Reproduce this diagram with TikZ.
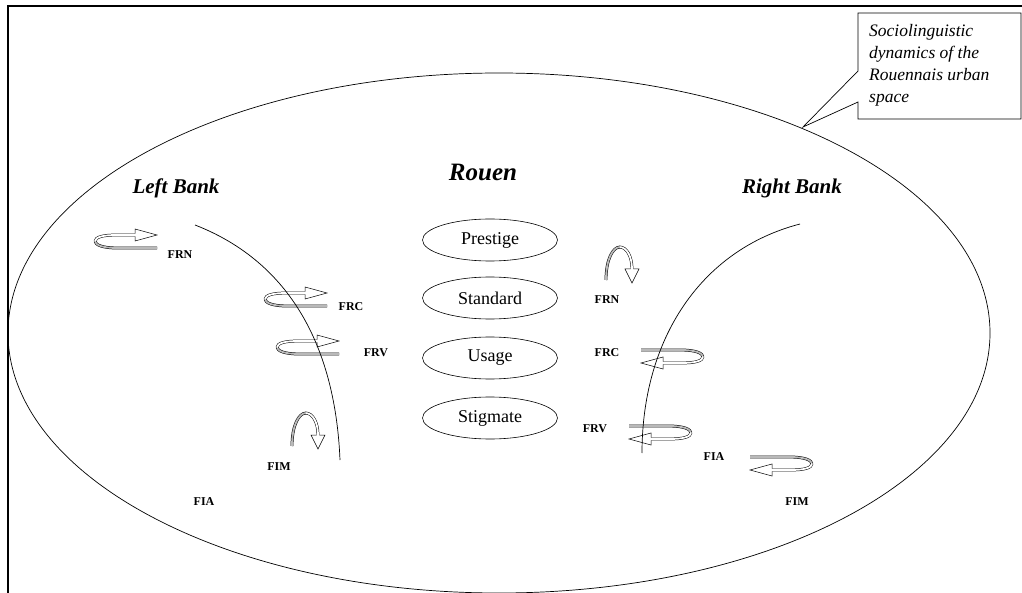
\documentclass[tikz,border=0pt]{standalone}
\usepackage{fontspec}
\setmainfont{Liberation Serif}
\usetikzlibrary{shapes.geometric}
\begin{document}
\begin{tikzpicture}[x=1pt,y=-1pt,
  code/.style={font=\fontsize{12}{14}\selectfont\bfseries, inner sep=0pt},
  bank/.style={font=\fontsize{21}{25}\selectfont\bfseries\itshape, inner sep=0pt},
  title/.style={font=\fontsize{25}{30}\selectfont\bfseries\itshape, inner sep=0pt},
  level/.style={ellipse, draw, line width=0.6pt, minimum width=135pt, minimum height=42pt, inner sep=0pt, font=\fontsize{18}{21}\selectfont},
  front/.style={draw=black, line width=0.5pt, double=white, double distance=1.8pt},
  back/.style={draw=black, line width=0.5pt, double=gray!55, double distance=1.8pt},
  headst/.style={draw=black, line width=0.5pt, fill=white, line join=miter},
  river/.style={draw=black, line width=0.7pt},
  harrow/.pic={
    \draw[back] (0,0) .. controls (0,4) and (8,7) .. (22,7) -- (62,7);
    \draw[front] (0,0.5) .. controls (0,-4) and (8,-6) .. (22,-6) -- (40,-6);
    \fill[white] (40,-12) -- (62,-6) -- (40,0) -- cycle;
    \draw[headst, fill=none] (40,-4.6) -- (40,0) -- (62,-6) -- (40,-12) -- (40,-7.4);
  },
  varrow/.pic={
    \draw[back] (-14,33) .. controls (-14,12) and (-7,0) .. (0,0);
    \draw[front] (-0.5,0) .. controls (7,0) and (12,10) .. (12,22);
    \fill[white] (5,22) -- (19,22) -- (12,36) -- cycle;
    \draw[headst, fill=none] (10.6,22) -- (5,22) -- (12,36) -- (19,22) -- (13.4,22);
  }
]
\useasboundingbox (0,0) rectangle (1022,593);
\fill[white] (0,0) rectangle (1022,593);

% frame
\draw[line width=2.5pt] (8,593) -- (8,6) -- (1022,6);

% big ellipse
\draw[line width=0.7pt] (499,333) ellipse [x radius=491pt, y radius=260pt];

% callout
\draw[line width=0.7pt, fill=white] (858,13) -- (1021,13) -- (1021,119) -- (858,119) -- (858,102) -- (803,127) -- (858,71) -- cycle;
\node[anchor=north west, align=left, inner sep=0pt, font=\fontsize{17.5}{22}\selectfont\itshape] (note) at (869,24) {Sociolinguistic\\dynamics of the\\Rouennais urban\\space};

% titles
\node[title] (rouen) at (483,172) {Rouen};
\node[bank] (left) at (176,188) {Left Bank};
\node[bank] (right) at (792,188) {Right Bank};

% levels
\node[level] (prestige) at (490,240) {Prestige};
\node[level] (standard) at (490,298) {Standard};
\node[level] (usage) at (490,358) {Usage};
\node[level] (stigmate) at (490,418) {Stigmate};

% left bank arrows
\pic at (95,241) {harrow};
\pic at (265,299) {harrow};
\pic at (277,347) {harrow};
\pic at (306,413) {varrow};

% right bank arrows
\pic at (620,247) {varrow};
\pic[rotate=180] at (703,357) {harrow};
\pic[rotate=180] at (691,433) {harrow};
\pic[rotate=180] at (812,464) {harrow};

% rivers
\draw[river] (195,225) .. controls (285,260) and (335,340) .. (340,460);
\draw[river] (800,224) .. controls (700,250) and (642,340) .. (642,453);

% codes left
\node[code] (lfrn) at (180,255) {FRN};
\node[code] (lfrc) at (351,307) {FRC};
\node[code] (lfrv) at (376,353) {FRV};
\node[code] (lfim) at (279,467) {FIM};
\node[code] (lfia) at (204,502) {FIA};

% codes right
\node[code] (rfrn) at (607,300) {FRN};
\node[code] (rfrc) at (607,353) {FRC};
\node[code] (rfrv) at (595,429) {FRV};
\node[code] (rfia) at (714,457) {FIA};
\node[code] (rfim) at (797,502) {FIM};
\end{tikzpicture}
\end{document}
